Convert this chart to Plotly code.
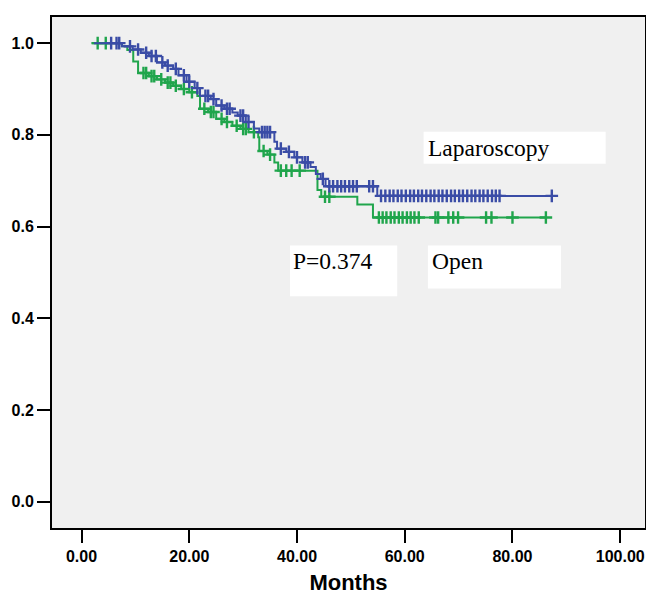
import numpy as np
import plotly.graph_objects as go

# Laparoscopy (blue) Kaplan-Meier steps: time of step and survival after step
lap_times = [2.3, 7.5, 9.5, 11.0, 12.5, 14.0, 15.5, 17.0, 18.0, 19.5, 21.0, 22.0,
             24.0, 25.0, 26.5, 28.0, 29.0, 30.5, 32.0, 33.0, 35.8, 36.3, 38.0,
             39.5, 41.0, 42.5, 43.5, 44.4, 45.3, 54.9]
lap_surv = [1.0, 0.993, 0.986, 0.979, 0.972, 0.958, 0.951, 0.944, 0.930, 0.916,
            0.902, 0.885, 0.878, 0.864, 0.857, 0.849, 0.842, 0.828, 0.814, 0.806,
            0.785, 0.770, 0.763, 0.751, 0.740, 0.730, 0.715, 0.704, 0.688, 0.667]
lap_censor = [5.5, 6.5, 7.0, 9.0, 10.5, 12.0, 13.0, 13.8, 15.0, 16.0, 17.5, 19.0,
              20.0, 21.5, 23.0, 23.5, 24.5, 26.0, 27.0, 27.5, 29.5, 30.0, 31.0,
              33.5, 34.0, 34.5, 35.0, 37.0, 38.5, 40.0, 41.5, 42.0, 44.8,
              46.0, 46.7, 47.5, 48.2, 48.9, 49.7, 50.4, 51.1, 53.4, 54.1,
              55.6, 56.4, 57.2, 57.9, 58.7, 59.4, 60.2, 61.0, 61.7, 62.5, 63.2,
              64.0, 64.8, 65.5, 66.3, 67.0, 67.8, 68.6, 69.3, 70.1, 70.8, 71.6,
              72.4, 73.1, 73.9, 74.6, 75.4, 76.2, 76.9, 77.6, 87.3]

# Open (green)
open_times = [2.0, 7.5, 8.5, 9.6, 10.5, 12.5, 14.0, 15.5, 17.0, 18.5, 20.0, 21.5,
              22.0, 23.5, 25.0, 26.5, 28.0, 29.5, 31.0, 32.8, 33.0, 34.5, 35.8,
              36.5, 43.8, 44.5, 51.2, 54.1]
open_surv = [1.0, 0.993, 0.985, 0.960, 0.935, 0.928, 0.921, 0.914, 0.907, 0.900,
             0.893, 0.885, 0.857, 0.850, 0.835, 0.828, 0.820, 0.813, 0.806, 0.795,
             0.765, 0.757, 0.740, 0.722, 0.680, 0.665, 0.648, 0.620]
open_censor = [3.0, 4.5, 11.5, 12.0, 13.0, 13.5, 14.8, 16.0, 16.5, 17.5, 19.0,
               20.5, 22.8, 24.0, 24.5, 26.0, 27.0, 28.8, 30.0, 30.5, 32.0, 33.8,
               35.0, 37.0, 38.0, 39.0, 40.5, 45.2, 46.0,
               55.2, 55.9, 56.6, 57.4, 58.1, 58.9, 59.6, 60.4, 61.1, 61.8, 62.6,
               65.7, 66.2, 68.1, 69.0, 69.9, 75.1, 76.1, 80.0, 86.2]

x_ticks = [0, 20, 40, 60, 80, 100]
x_ticktext = ["0.00", "20.00", "40.00", "60.00", "80.00", "100.00"]
y_ticks = [0.0, 0.2, 0.4, 0.6, 0.8, 1.0]
y_ticktext = ["0.0", "0.2", "0.4", "0.6", "0.8", "1.0"]

BLUE = "#3A4CA6"
GREEN = "#20A54C"


def km_traces(times, surv, censor, color, name):
    t = np.array(times)
    s = np.array(surv)
    end = max(censor)
    xs = list(t) + [end]
    ys = list(s) + [s[-1]]
    idx = np.searchsorted(t, np.array(censor), side="right") - 1
    cy = s[np.clip(idx, 0, None)]
    line = go.Scatter(x=xs, y=ys, mode="lines", line=dict(color=color, width=2, shape="hv"),
                      name=name, showlegend=False, hoverinfo="skip")
    marks = go.Scatter(x=censor, y=cy, mode="markers",
                       marker=dict(symbol="cross-thin", size=9, line=dict(color=color, width=2.4)),
                       name=name + " censored", showlegend=False)
    return [line, marks]


fig = go.Figure()
for tr in km_traces(open_times, open_surv, open_censor, GREEN, "Open"):
    fig.add_trace(tr)
for tr in km_traces(lap_times, lap_surv, lap_censor, BLUE, "Laparoscopy"):
    fig.add_trace(tr)

# white label boxes
boxes = [
    (63.5, 97.3, 0.737, 0.807),
    (64.3, 89.0, 0.465, 0.559),
    (38.7, 58.6, 0.448, 0.559),
]
for x0, x1, y0, y1 in boxes:
    fig.add_shape(type="rect", xref="x", yref="y", x0=x0, x1=x1, y0=y0, y1=y1,
                  fillcolor="white", line=dict(width=0), layer="below")

labels = [("Laparoscopy", 64.0, 0.772), ("Open", 64.6, 0.524), ("P=0.374", 38.9, 0.526)]
for txt, xx, yy in labels:
    fig.add_annotation(x=xx, y=yy, xref="x", yref="y", text=txt, showarrow=False,
                       xanchor="left", yanchor="middle",
                       font=dict(family="Liberation Serif", size=23.5, color="black"))

axis_common = dict(showline=True, linecolor="black", linewidth=2, mirror=True,
                   ticks="outside", ticklen=13, tickwidth=2, tickcolor="black",
                   showgrid=False, zeroline=False, automargin=False,
                   tickfont=dict(family="Liberation Sans", size=16, color="black", weight="bold"))

fig.update_xaxes(range=[-5.48, 104.6], tickvals=x_ticks, ticktext=x_ticktext,
                 title=dict(text="Months", standoff=17,
                            font=dict(family="Liberation Sans", size=22, color="black", weight="bold")),
                 **axis_common)
fig.update_yaxes(range=[-0.057, 1.057], tickvals=y_ticks, ticktext=y_ticktext, **axis_common)

# page body adds an 8px margin on every side, so the figure is sized to fit inside it
fig.update_layout(width=638, height=587, margin=dict(l=44, r=1, t=9, b=67),
                  plot_bgcolor="#F0F0F0", paper_bgcolor="white", showlegend=False)

fig.write_html("out.html")
